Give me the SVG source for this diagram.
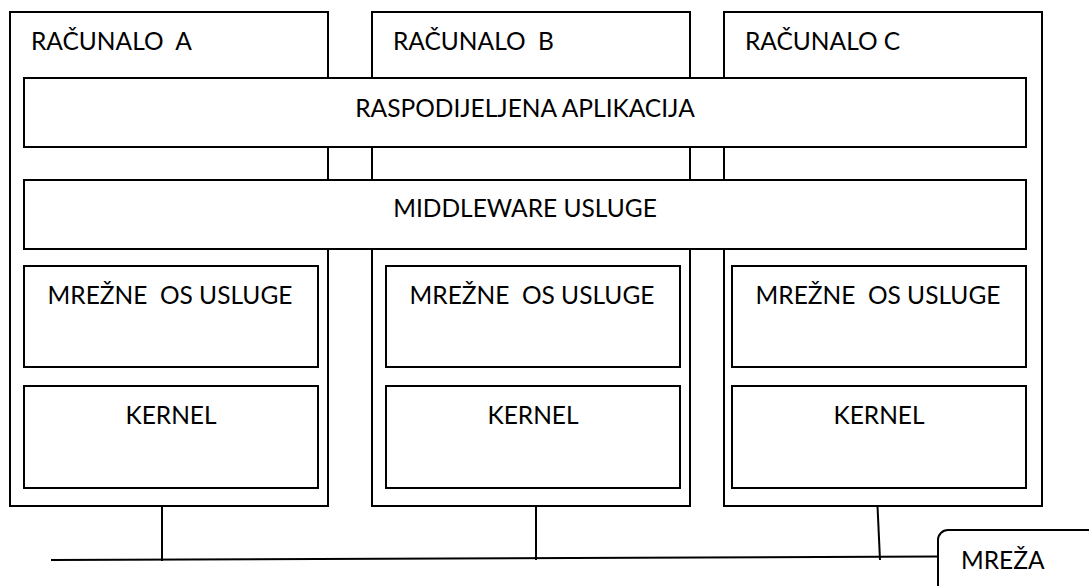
<svg xmlns="http://www.w3.org/2000/svg" width="1089" height="586" viewBox="0 0 1089 586">
  <style>
    .box { fill: #ffffff; stroke: #000000; stroke-width: 2; }
    .wire { fill: none; stroke: #000000; stroke-width: 2; }
    .lbl { font-family: Lato, "Open Sans", "Liberation Sans", sans-serif; font-size: 24.5px; fill: #000000; }
    .mid { text-anchor: middle; }
  </style>
  <rect width="1089" height="586" fill="#ffffff"/>

  <!-- computers -->
  <g id="racunalo-a">
    <rect class="box" x="10" y="12" width="318" height="494"/>
    <text class="lbl" x="31" y="50" xml:space="preserve">RAČUNALO  A</text>
  </g>
  <g id="racunalo-b">
    <rect class="box" x="372" y="12" width="318" height="494"/>
    <text class="lbl" x="393" y="50" xml:space="preserve">RAČUNALO  B</text>
  </g>
  <g id="racunalo-c">
    <rect class="box" x="724" y="12" width="318" height="494"/>
    <text class="lbl" x="745" y="50">RAČUNALO C</text>
  </g>

  <!-- shared layers spanning all computers -->
  <g id="raspodijeljena-aplikacija">
    <rect class="box" x="24" y="78" width="1002" height="69"/>
    <text class="lbl mid" x="525" y="117">RASPODIJELJENA APLIKACIJA</text>
  </g>
  <g id="middleware-usluge">
    <rect class="box" x="24" y="180" width="1002" height="69"/>
    <text class="lbl mid" x="525" y="217">MIDDLEWARE USLUGE</text>
  </g>

  <!-- per-computer layers -->
  <g id="mrezne-os-a">
    <rect class="box" x="24" y="266" width="294" height="101"/>
    <text class="lbl mid" x="170" y="304" xml:space="preserve">MREŽNE  OS USLUGE</text>
  </g>
  <g id="kernel-a">
    <rect class="box" x="24" y="386" width="294" height="102"/>
    <text class="lbl mid" x="171" y="424">KERNEL</text>
  </g>
  <g id="mrezne-os-b">
    <rect class="box" x="386" y="266" width="294" height="101"/>
    <text class="lbl mid" x="532" y="304" xml:space="preserve">MREŽNE  OS USLUGE</text>
  </g>
  <g id="kernel-b">
    <rect class="box" x="386" y="386" width="294" height="102"/>
    <text class="lbl mid" x="533" y="424">KERNEL</text>
  </g>
  <g id="mrezne-os-c">
    <rect class="box" x="732" y="266" width="294" height="101"/>
    <text class="lbl mid" x="878" y="304" xml:space="preserve">MREŽNE  OS USLUGE</text>
  </g>
  <g id="kernel-c">
    <rect class="box" x="732" y="386" width="294" height="102"/>
    <text class="lbl mid" x="879" y="424">KERNEL</text>
  </g>

  <!-- network -->
  <g id="mreza">
    <rect class="box" x="938" y="530" width="200" height="100" rx="10" ry="10"/>
    <text class="lbl" x="961" y="569">MREŽA</text>
  </g>

  <g id="connectors">
    <line class="wire" x1="51" y1="560" x2="938" y2="556.5"/>
    <line class="wire" x1="162" y1="506" x2="162" y2="561"/>
    <line class="wire" x1="536" y1="506" x2="536" y2="560"/>
    <line class="wire" x1="877.5" y1="506" x2="880" y2="560"/>
  </g>
</svg>
